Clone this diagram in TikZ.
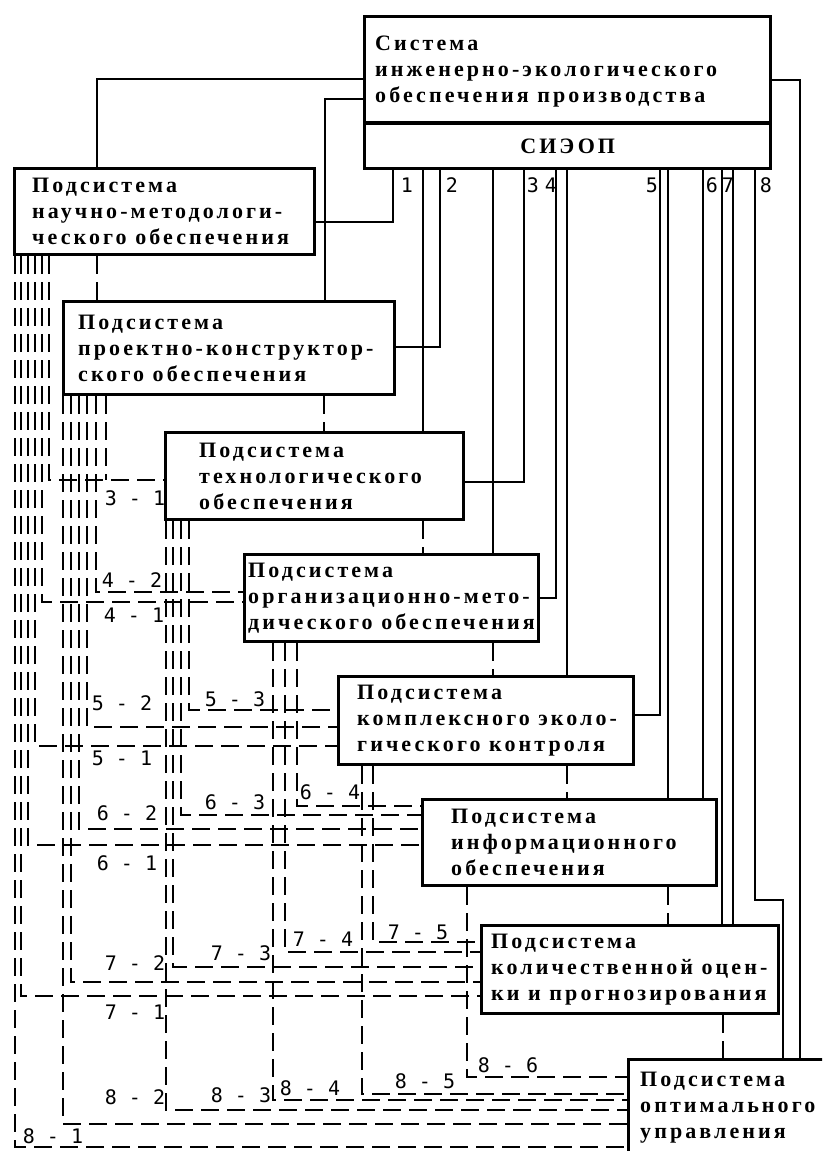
\documentclass[tikz,border=0pt]{standalone}
\usepackage{fontspec}
\newfontfamily\boxfont{Liberation Serif}[LetterSpace=14]
\newfontfamily\numfont{DejaVu Sans Mono}
\begin{document}
\begin{tikzpicture}[x=1pt,y=-1pt,
  box/.style={draw, line width=3.4pt, inner sep=0pt, anchor=north west},
  txt/.style={anchor=west, inner sep=0pt, align=left, font=\boxfont\bfseries\fontsize{22}{26}\selectfont},
  sline/.style={line width=2.4pt},
  dline/.style={line width=2.8pt, dash pattern=on 18pt off 8pt},
  lab/.style={inner sep=0pt, font=\numfont\fontsize{20}{20}\selectfont}]
\useasboundingbox (0,0) rectangle (822,1151);
\fill[white] (0,0) rectangle (822,1151);
\clip (0,0) rectangle (822,1151);

% boxes
\node[box, minimum width=406pt, minimum height=152pt] (sys) at (363,15) {};
\draw[line width=3.4pt] (sys.west |- 0,123) -- (sys.east |- 0,123);
\node[txt, xshift=12pt] (syst) at (sys.west |- 0,72) {Система\\инженерно-экологического\\обеспечения производства};
\node[txt, anchor=center] (siop) at (sys.south |- 0,146) {СИЭОП};

\node[box, minimum width=300pt, minimum height=86pt] (b1) at (13,167) {};
\node[txt, xshift=19pt] (b1t) at (b1.west) {Подсистема\\научно-методологи-\\ческого обеспечения};
\node[box, minimum width=331pt, minimum height=93pt] (b2) at (62,300) {};
\node[txt, xshift=16pt] (b2t) at (b2.west) {Подсистема\\проектно-конструктор-\\ского обеспечения};
\node[box, minimum width=298pt, minimum height=87pt] (b3) at (164,431) {};
\node[txt, xshift=35pt] (b3t) at (b3.west) {Подсистема\\технологического\\обеспечения};
\node[box, minimum width=294pt, minimum height=87pt] (b4) at (243,553) {};
\node[txt, xshift=5pt] (b4t) at (b4.west) {Подсистема\\организационно-мето-\\дического обеспечения};
\node[box, minimum width=295pt, minimum height=88pt] (b5) at (337,675) {};
\node[txt, xshift=20pt] (b5t) at (b5.west) {Подсистема\\комплексного эколо-\\гического контроля};
\node[box, minimum width=294pt, minimum height=86pt] (b6) at (421,798) {};
\node[txt, xshift=30pt] (b6t) at (b6.west) {Подсистема\\информационного\\обеспечения};
\node[box, minimum width=297pt, minimum height=88pt] (b7) at (480,924) {};
\node[txt, xshift=11pt] (b7t) at (b7.west) {Подсистема\\количественной оцен-\\ки и прогнозирования};
\node[box, minimum width=240pt, minimum height=140pt] (b8) at (627,1058) {};
\node[txt, xshift=13pt] (b8t) at (b8.west |- 0,1108) {Подсистема\\оптимального\\управления};

% solid links from the system
\draw[sline] (sys.west |- 0,79) -| (b1.north -| 97,0);
\draw[sline] (sys.west |- 0,99) -| (b2.north -| 325,0);
\draw[sline] (sys.south -| 393,0) |- (b1.east |- 0,222);
\draw[sline] (sys.south -| 423,0) -- (b3.north -| 423,0);
\draw[sline] (sys.south -| 440,0) |- (b2.east |- 0,347);
\draw[sline] (sys.south -| 493,0) -- (b4.north -| 493,0);
\draw[sline] (sys.south -| 524,0) |- (b3.east |- 0,482);
\draw[sline] (sys.south -| 556,0) |- (b4.east |- 0,598);
\draw[sline] (sys.south -| 567,0) -- (b5.north -| 567,0);
\draw[sline] (sys.south -| 660,0) |- (b5.east |- 0,715);
\draw[sline] (sys.south -| 668,0) -- (b6.north -| 668,0);
\draw[sline] (sys.south -| 703,0) -- (b6.north -| 703,0);
\draw[sline] (sys.south -| 722,0) -- (b7.north -| 722,0);
\draw[sline] (sys.south -| 733,0) -- (b7.north -| 733,0);
\coordinate (k8a) at (755,900);
\coordinate (k8b) at (783,900);
\draw[sline] (sys.south -| 755,0) -- (k8a) -- (k8b) -- (b8.north -| k8b);
\draw[sline] (sys.east |- 0,80) -| (b8.north -| 800,0);

\node[lab] (n1) at (407,185) {1};
\node[lab] (n2) at (452,185) {2};
\node[lab] (n3) at (533,185) {3};
\node[lab] (n4) at (551,185) {4};
\node[lab] (n5) at (652,185) {5};
\node[lab] (n6) at (712,185) {6};
\node[lab] (n7) at (728,185) {7};
\node[lab] (n8) at (766,185) {8};

% adjacent dashed links
\draw[dline] (b1.south -| 97,0) -- (b2.north -| 97,0);
\draw[dline] (b2.south -| 324,0) -- (b3.north -| 324,0);
\draw[dline] (b3.south -| 423,0) -- (b4.north -| 423,0);
\draw[dline] (b4.south -| 493,0) -- (b5.north -| 493,0);
\draw[dline] (b5.south -| 567,0) -- (b6.north -| 567,0);
\draw[dline] (b6.south -| 668,0) -- (b7.north -| 668,0);
\draw[dline] (b7.south -| 723,0) -- (b8.north -| 723,0);

% from box 1
\draw[dline] (b1.south -| 49,0) |- (b3.west |- 0,480);
\draw[dline] (b1.south -| 42,0) |- (b4.west |- 0,602);
\draw[dline] (b1.south -| 35,0) |- (b5.west |- 0,746);
\draw[dline] (b1.south -| 28,0) |- (b6.west |- 0,845);
\draw[dline] (b1.south -| 21,0) |- (b7.west |- 0,996);
\draw[dline] (b1.south -| 15,0) |- (b8.west |- 0,1147);
% from box 2
\coordinate (j32) at (106,480);
\draw[dline] (b2.south -| j32) -- (j32);
\draw[dline] (b2.south -| 96,0) |- (b4.west |- 0,592);
\draw[dline] (b2.south -| 87,0) |- (b5.west |- 0,727);
\draw[dline] (b2.south -| 79,0) |- (b6.west |- 0,829);
\draw[dline] (b2.south -| 71,0) |- (b7.west |- 0,982);
\draw[dline] (b2.south -| 63,0) |- (b8.west |- 0,1124);
% from box 3
\draw[dline] (b3.south -| 189,0) |- (b5.west |- 0,710);
\draw[dline] (b3.south -| 181,0) |- (b6.west |- 0,815);
\draw[dline] (b3.south -| 173,0) |- (b7.west |- 0,967);
\draw[dline] (b3.south -| 166,0) |- (b8.west |- 0,1110);
% from box 4
\draw[dline] (b4.south -| 297,0) |- (b6.west |- 0,806);
\draw[dline] (b4.south -| 285,0) |- (b7.west |- 0,952);
\draw[dline] (b4.south -| 273,0) |- (b8.west |- 0,1100);
% from box 5
\draw[dline] (b5.south -| 373,0) |- (b7.west |- 0,942);
\draw[dline] (b5.south -| 362,0) |- (b8.west |- 0,1094);
% from box 6
\draw[dline] (b6.south -| 467,0) |- (b8.west |- 0,1077);

% labels
\node[lab] (l31) at (135,498) {3 - 1};
\node[lab] (l42) at (132,580) {4 - 2};
\node[lab] (l41) at (134,615) {4 - 1};
\node[lab] (l52) at (122,703) {5 - 2};
\node[lab] (l53) at (235,699) {5 - 3};
\node[lab] (l51) at (122,758) {5 - 1};
\node[lab] (l62) at (127,813) {6 - 2};
\node[lab] (l63) at (235,802) {6 - 3};
\node[lab] (l64) at (330,792) {6 - 4};
\node[lab] (l61) at (127,863) {6 - 1};
\node[lab] (l72) at (135,963) {7 - 2};
\node[lab] (l73) at (241,953) {7 - 3};
\node[lab] (l74) at (323,939) {7 - 4};
\node[lab] (l75) at (418,932) {7 - 5};
\node[lab] (l71) at (135,1012) {7 - 1};
\node[lab] (l81) at (53,1136) {8 - 1};
\node[lab] (l82) at (135,1097) {8 - 2};
\node[lab] (l83) at (241,1095) {8 - 3};
\node[lab] (l84) at (310,1088) {8 - 4};
\node[lab] (l85) at (425,1081) {8 - 5};
\node[lab] (l86) at (508,1065) {8 - 6};
\end{tikzpicture}
\end{document}
